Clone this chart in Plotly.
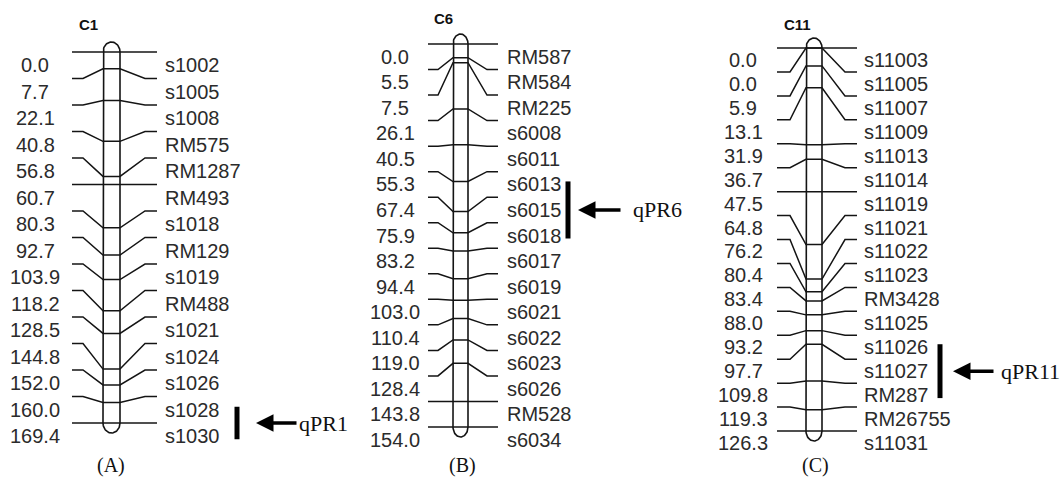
import numpy as np
import plotly.graph_objects as go

# ---------------- data ----------------
c1_markers = ["s1002", "s1005", "s1008", "RM575", "RM1287", "RM493", "s1018", "RM129",
              "s1019", "RM488", "s1021", "s1024", "s1026", "s1028", "s1030"]
c1_pos = [0.0, 7.7, 22.1, 40.8, 56.8, 60.7, 80.3, 92.7, 103.9, 118.2, 128.5, 144.8,
          152.0, 160.0, 169.4]

c6_markers = ["RM587", "RM584", "RM225", "s6008", "s6011", "s6013", "s6015", "s6018",
              "s6017", "s6019", "s6021", "s6022", "s6023", "s6026", "RM528", "s6034"]
c6_pos = [0.0, 5.5, 7.5, 26.1, 40.5, 55.3, 67.4, 75.9, 83.2, 94.4, 103.0, 110.4,
          119.0, 128.4, 143.8, 154.0]

c11_markers = ["s11003", "s11005", "s11007", "s11009", "s11013", "s11014", "s11019",
               "s11021", "s11022", "s11023", "RM3428", "s11025", "s11026", "s11027",
               "RM287", "RM26755", "s11031"]
c11_pos = [0.0, 0.0, 5.9, 13.1, 31.9, 36.7, 47.5, 64.8, 76.2, 80.4, 83.4, 88.0, 93.2,
           97.7, 109.8, 119.3, 126.3]

chrom_names = ["C1", "C6", "C11"]
panel_labels = ["(A)", "(B)", "(C)"]
qtl_names = ["qPR1", "qPR6", "qPR11"]
qtl_first = ["s1028", "s6013", "s11026"]
qtl_last = ["s1030", "s6018", "RM287"]

# ---------------- layout / style (pixel positions) ----------------
W, H = 1064, 477
cfgs = [
    dict(oL=72, kL=83, bL=103, bR=120, kR=145, oR=157, num_x=35, name_x=163,
         top=52, bottom=423, title_x=77, title_py=24, qbar_x=237, tip=256, tail=298,
         qtext_x=297, panel_x=111),
    dict(oL=428, kL=438, bL=453, bR=468, kR=487, oR=498, num_x=395, name_x=505,
         top=44, bottom=427, title_x=432, title_py=18, qbar_x=568, tip=578, tail=622,
         qtext_x=631, panel_x=462),
    dict(oL=777, kL=790, bL=806, bR=822, kR=845, oR=857, num_x=743, name_x=862,
         top=48, bottom=431, title_x=782, title_py=24, qbar_x=940, tip=953, tail=995,
         qtext_x=999, panel_x=815),
]
CAP_PX = 10
LINE = "#141414"
TXT = "#2b2b2b"
SANS = "Arial, Liberation Sans, sans-serif"
SERIF = "Times New Roman, Liberation Serif, serif"

fig = go.Figure()
yrefs = ["y", "y2", "y3"]
annotations = []
layout_axes = {}

datasets = [(c1_markers, c1_pos), (c6_markers, c6_pos), (c11_markers, c11_pos)]
for k, ((names, pos), cfg) in enumerate(zip(datasets, cfgs)):
    yref = yrefs[k]
    L = pos[-1]
    n = len(pos)
    s = (cfg["bottom"] - cfg["top"]) / L          # pixels per cM
    row = L / (n - 1)                              # label row spacing in cM units
    outer = [i * row for i in range(n)]

    # connectors
    xs, ys = [], []
    for o, p in zip(outer, pos):
        xs += [cfg["oL"], cfg["kL"], cfg["bL"], cfg["bR"], cfg["kR"], cfg["oR"], None]
        ys += [o, o, p, p, o, o, None]
    fig.add_trace(go.Scatter(x=xs, y=ys, yaxis=yref, mode="lines",
                             line=dict(color=LINE, width=1.5), hoverinfo="skip",
                             showlegend=False))

    # chromosome outline with rounded caps
    cx = (cfg["bL"] + cfg["bR"]) / 2
    rx = (cfg["bR"] - cfg["bL"]) / 2
    ry = CAP_PX / s
    t_top = np.linspace(np.pi, 0, 40)
    t_bot = np.linspace(0, -np.pi, 40)
    ox = [cfg["bL"], cfg["bL"]] + list(cx + rx * np.cos(t_top)) + [cfg["bR"], cfg["bR"]] \
        + list(cx + rx * np.cos(t_bot)) + [cfg["bL"]]
    oy = [L, 0] + list(0 - ry * np.sin(t_top)) + [0, L] + list(L - ry * np.sin(t_bot)) + [L]
    fig.add_trace(go.Scatter(x=ox, y=oy, yaxis=yref, mode="lines",
                             line=dict(color=LINE, width=1.6), hoverinfo="skip",
                             showlegend=False))

    # labels
    for o, p, nm in zip(outer, pos, names):
        yc = o + row / 2
        annotations.append(dict(x=cfg["num_x"], y=yc, xref="x", yref=yref,
                                text=f"{p:.1f}", showarrow=False, xanchor="center",
                                yanchor="middle", font=dict(family=SANS, size=20, color=TXT)))
        annotations.append(dict(x=cfg["name_x"], y=yc, xref="x", yref=yref,
                                text=nm, showarrow=False, xanchor="left",
                                yanchor="middle", font=dict(family=SANS, size=20, color=TXT)))

    # chromosome title
    annotations.append(dict(x=cfg["title_x"], y=(cfg["title_py"] - cfg["top"]) / s,
                            xref="x", yref=yref, text="<b>%s</b>" % chrom_names[k],
                            showarrow=False, xanchor="left", yanchor="middle",
                            font=dict(family=SANS, size=15, color="#111")))

    # QTL bar + arrow + name
    i1 = names.index(qtl_first[k])
    i2 = names.index(qtl_last[k])
    qy1 = outer[i1] + row / 2 - 3 / s
    qy2 = outer[i2] + row / 2 + 3 / s
    fig.add_trace(go.Scatter(x=[cfg["qbar_x"], cfg["qbar_x"]], y=[qy1, qy2], yaxis=yref,
                             mode="lines", line=dict(color="#000", width=5),
                             hoverinfo="skip", showlegend=False))
    qmid = (qy1 + qy2) / 2
    annotations.append(dict(x=cfg["tip"], y=qmid, ax=cfg["tail"], ay=qmid,
                            xref="x", yref=yref, axref="x", ayref=yref, text="",
                            showarrow=True, arrowhead=2, arrowsize=1, arrowwidth=3.5,
                            arrowcolor="#000"))
    annotations.append(dict(x=cfg["qtext_x"], y=qmid, xref="x", yref=yref,
                            text=qtl_names[k], showarrow=False, xanchor="left",
                            yanchor="middle", font=dict(family=SERIF, size=22, color="#111")))

    # panel label
    annotations.append(dict(x=cfg["panel_x"], y=1 - 465 / H, xref="x", yref="paper",
                            text=panel_labels[k], showarrow=False, xanchor="center",
                            yanchor="middle", font=dict(family=SERIF, size=20, color="#111")))

    ax_name = "yaxis" if k == 0 else "yaxis%d" % (k + 1)
    ax = dict(range=[(H - cfg["top"]) / s, -cfg["top"] / s], visible=False,
              showgrid=False, zeroline=False, domain=[0, 1], anchor="x",
              fixedrange=True)
    if k > 0:
        ax["overlaying"] = "y"
    layout_axes[ax_name] = ax

fig.update_layout(
    width=W, height=H,
    margin=dict(l=0, r=0, t=0, b=0),
    paper_bgcolor="white", plot_bgcolor="white",
    xaxis=dict(range=[0, W], visible=False, showgrid=False, zeroline=False,
               domain=[0, 1], fixedrange=True),
    annotations=annotations,
    hovermode=False,
    showlegend=False,
    **layout_axes,
)

fig.write_html("out.html", config={"displayModeBar": False},
               post_script="document.body.style.margin='0';document.body.style.overflow='hidden';")
